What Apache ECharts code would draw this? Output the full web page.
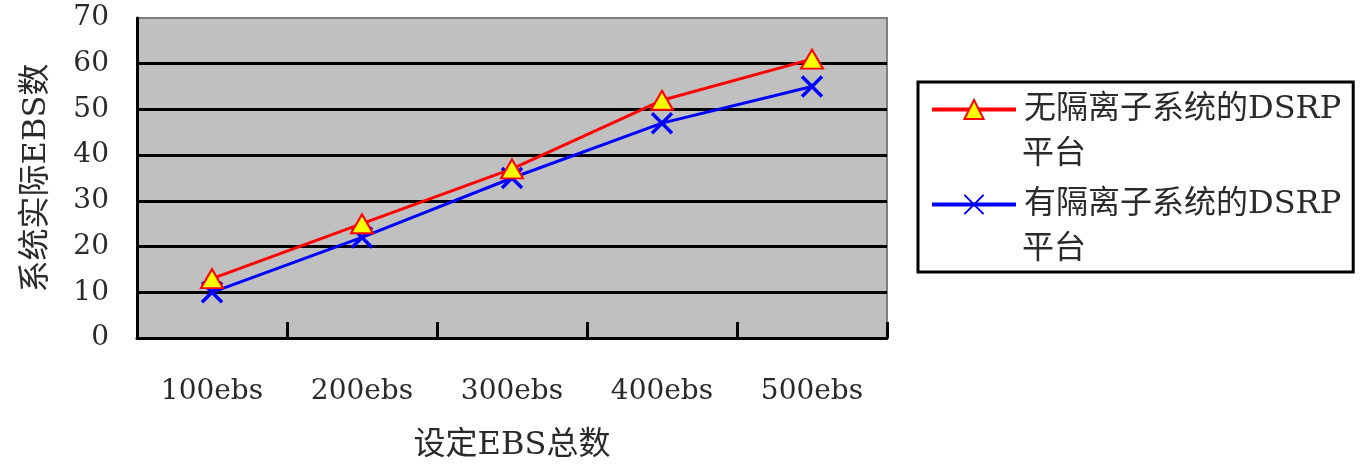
<!DOCTYPE html>
<html>
<head>
<meta charset="utf-8">
<script src="https://cdn.jsdelivr.net/npm/echarts@6/dist/echarts.min.js"></script>
<style>
  html, body { margin: 0; padding: 0; background: #fff; }
  #chart { width: 1365px; height: 469px; }
</style>
</head>
<body>
<div id="chart"></div>
<script>
// Categories: configured EBS totals
const categories = ['100ebs', '200ebs', '300ebs', '400ebs', '500ebs'];
// Series names (first legend line, continuation line)
const seriesNames = ['无隔离子系统的DSRP平台', '有隔离子系统的DSRP平台'];
const nameHeads = ['无隔离子系统的DSRP', '有隔离子系统的DSRP'];
const nameTails = ['平台', '平台'];
// Actual EBS counts per platform
const noIsolation = [13, 25, 37, 52, 61];
const withIsolation = [10, 22, 35, 47, 55];
// Y axis ticks
const yTicks = [0, 10, 20, 30, 40, 50, 60, 70];

const FONT = '"DejaVu Serif", "Noto Sans CJK SC", serif';
const TEXT_COLOR = '#2a2a2a';

// Legend box geometry
const LEG_LEFT = 918, LEG_TOP = 82;
const LEG_PAD_TOP = 5, LEG_PAD_LEFT = 12;
const LINE_H = 45;           // height of one legend text line
const ITEM_W = 84, ITEM_H = 24;
const ITEM_STEP = 95;        // distance between legend entries
const TEXT_X = LEG_LEFT + LEG_PAD_LEFT + ITEM_W + 5 + 3;

const crossPath = 'path://M0,0L10,10M10,0L0,10';

const chart = echarts.init(document.getElementById('chart'), null, { renderer: 'canvas' });

// second line of each legend entry, set under its first line
const tailTexts = nameTails.map(function (t, i) {
  return {
    type: 'text',
    left: TEXT_X,
    top: LEG_TOP + LEG_PAD_TOP + LINE_H + i * ITEM_STEP,
    style: {
      text: t,
      font: '32px ' + FONT,
      fill: TEXT_COLOR,
      lineHeight: LINE_H,
      height: LINE_H,
      verticalAlign: 'middle'
    }
  };
});

chart.setOption({
  animation: false,
  backgroundColor: '#ffffff',
  grid: {
    left: 137, right: 478, top: 18, bottom: 131,
    show: true,
    backgroundColor: '#c0c0c0',
    borderColor: '#808080',
    borderWidth: 2
  },
  legend: {
    orient: 'vertical',
    left: LEG_LEFT, top: LEG_TOP,
    width: 444,
    padding: [LEG_PAD_TOP, 12, LINE_H, LEG_PAD_LEFT],
    borderColor: '#000',
    borderWidth: 3,
    itemWidth: ITEM_W,
    itemHeight: ITEM_H,
    itemGap: ITEM_STEP - LINE_H,
    lineStyle: { width: 4 },
    textStyle: {
      fontFamily: FONT, fontSize: 32, color: TEXT_COLOR,
      lineHeight: LINE_H,
      padding: [0, 0, 0, 3]
    },
    formatter: function (name) { return nameHeads[seriesNames.indexOf(name)]; },
    data: seriesNames
  },
  graphic: tailTexts,
  xAxis: {
    type: 'category',
    data: categories,
    boundaryGap: true,
    name: '设定EBS总数',
    nameLocation: 'middle',
    nameGap: 92,
    nameTextStyle: { fontFamily: FONT, fontSize: 32, color: TEXT_COLOR },
    axisLine: { lineStyle: { color: '#000', width: 3 } },
    axisTick: { show: true, inside: true, length: 16, lineStyle: { color: '#000', width: 3 } },
    axisLabel: { fontFamily: FONT, fontSize: 28, color: TEXT_COLOR, margin: 40 },
    splitLine: { show: false }
  },
  yAxis: {
    type: 'value',
    min: yTicks[0],
    max: yTicks[yTicks.length - 1],
    interval: 10,
    name: '系统实际EBS数',
    nameLocation: 'middle',
    nameRotate: 90,
    nameGap: 84,
    nameTextStyle: { fontFamily: FONT, fontSize: 32, color: TEXT_COLOR },
    axisLine: { show: true, lineStyle: { color: '#000', width: 3 } },
    axisTick: { show: false },
    axisLabel: { fontFamily: FONT, fontSize: 28, color: TEXT_COLOR, margin: 28 },
    splitLine: { show: true, showMaxLine: false, lineStyle: { color: '#000', width: 3 } }
  },
  series: [
    {
      name: seriesNames[0],
      type: 'line',
      data: noIsolation,
      symbol: 'triangle',
      symbolSize: [22, 19],
      lineStyle: { color: '#ff0000', width: 3 },
      itemStyle: { color: '#ffff00', borderColor: '#ff0000', borderWidth: 2 },
      z: 3
    },
    {
      name: seriesNames[1],
      type: 'line',
      data: withIsolation,
      symbol: crossPath,
      symbolSize: 20,
      lineStyle: { color: '#0000ff', width: 3 },
      itemStyle: { color: 'none', borderColor: '#0000ff', borderWidth: 3.5 },
      z: 2
    }
  ]
});
</script>
</body>
</html>
